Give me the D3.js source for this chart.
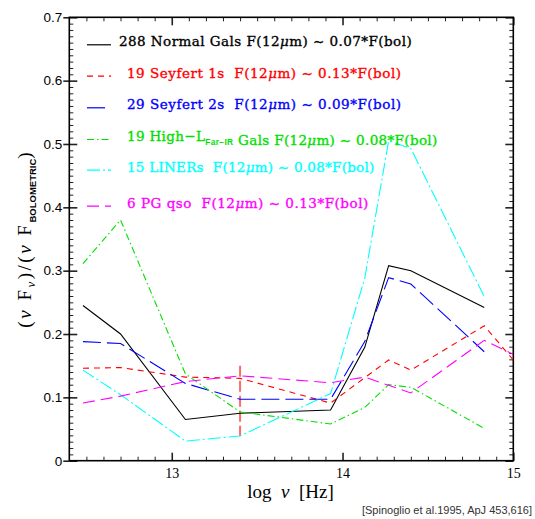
<!DOCTYPE html>
<html>
<head>
<meta charset="utf-8">
<script src="https://cdn.jsdelivr.net/npm/d3@7"></script>
<style>
  body { margin: 0; background: #fff; }
  text { white-space: pre; }
</style>
</head>
<body>
<svg id="chart" width="535" height="519"></svg>
<script>
// Mean SEDs normalised to the bolometric flux, sampled at the photometric bands
const logNu = [12.48, 12.70, 13.08, 13.40, 13.93, 14.13, 14.27, 14.40, 14.83, 15.00];

const normalGals = [0.245, 0.200, 0.065, 0.075, 0.080, 0.179, 0.308, 0.300, 0.242, null];
const seyfert1s  = [0.146, 0.147, 0.132, 0.130, 0.091, 0.131, 0.159, 0.143, 0.213, 0.159];
const seyfert2s  = [0.188, 0.185, 0.122, 0.097, 0.097, 0.188, 0.289, 0.279, 0.172, null];
const highLfir   = [0.311, 0.380, 0.137, 0.077, 0.058, 0.084, 0.120, 0.116, 0.051, null];
const liners     = [0.143, 0.104, 0.031, 0.039, 0.106, 0.288, 0.505, 0.493, 0.259, null];
const pgQso      = [0.091, 0.102, 0.125, 0.134, 0.123, 0.132, 0.119, 0.107, 0.190, 0.168];

const seriesNames = ["normal", "sy1", "sy2", "highL", "liners", "pgqso"];
const seriesValues = [normalGals, seyfert1s, seyfert2s, highLfir, liners, pgQso];
const legendLabels = [
  "288 Normal Gals F(12μm) ~ 0.07*F(bol)",
  "19 Seyfert 1s  F(12μm) ~ 0.13*F(bol)",
  "29 Seyfert 2s  F(12μm) ~ 0.09*F(bol)",
  "19 High−L_{Far−IR} Gals F(12μm) ~ 0.08*F(bol)",
  "15 LINERs  F(12μm) ~ 0.08*F(bol)",
  "6 PG qso  F(12μm) ~ 0.13*F(bol)"
];

// 12 micron marker (log nu = 13.4)
const marker12 = { logNu: 13.40, lo: 0.039, hi: 0.150 };

const xDomain = [12.4, 15];
const yDomain = [0, 0.7];
const xMajorTicks = [13, 14, 15];
const yMajorTicks = [0, 0.1, 0.2, 0.3, 0.4, 0.5, 0.6, 0.7];

// ---- styling ----
const colors = ["#000000", "#ff0000", "#0000ff", "#00e000", "#00ffff", "#ff00ff"];
const dashes = [null, "6,5", "18,6", "7,3,1.5,3", "13,3,2,3", "12,6"];

const svg = d3.select("#chart");
const plot = { left: 69.3, right: 513.3, top: 17.3, bottom: 460.7 };

const x = d3.scaleLinear().domain(xDomain).range([plot.left, plot.right]);
const y = d3.scaleLinear().domain(yDomain).range([plot.bottom, plot.top]);

const xMinor = d3.range(125, 150).map(v => v / 10).filter(v => Math.abs(v - Math.round(v)) > 1e-9);
const yMinor = d3.range(1, 70).filter(v => v % 10 !== 0).map(v => v / 100);

function noDomain(g) { g.select(".domain").remove(); }
function tickStyle(g, w) { g.selectAll(".tick line").attr("stroke", "#222").attr("stroke-width", w); }

// bottom
svg.append("g").attr("transform", `translate(0,${plot.bottom})`)
  .call(d3.axisBottom(x).tickValues(xMinor).tickSize(-4).tickFormat(""))
  .call(noDomain).call(g => tickStyle(g, 1));
svg.append("g").attr("transform", `translate(0,${plot.bottom})`)
  .call(d3.axisBottom(x).tickValues(xMajorTicks).tickSize(-8).tickPadding(7).tickFormat(d3.format("d")))
  .call(noDomain).call(g => tickStyle(g, 1.6))
  .call(g => g.selectAll("text").attr("font-family", "Liberation Serif, serif").attr("font-size", 14).attr("fill", "#000"));
// top
svg.append("g").attr("transform", `translate(0,${plot.top})`)
  .call(d3.axisTop(x).tickValues(xMinor).tickSize(-4).tickFormat(""))
  .call(noDomain).call(g => tickStyle(g, 1));
svg.append("g").attr("transform", `translate(0,${plot.top})`)
  .call(d3.axisTop(x).tickValues(xMajorTicks).tickSize(-8).tickFormat(""))
  .call(noDomain).call(g => tickStyle(g, 1.6));
// left
svg.append("g").attr("transform", `translate(${plot.left},0)`)
  .call(d3.axisLeft(y).tickValues(yMinor).tickSize(-4).tickFormat(""))
  .call(noDomain).call(g => tickStyle(g, 1));
svg.append("g").attr("transform", `translate(${plot.left},0)`)
  .call(d3.axisLeft(y).tickValues(yMajorTicks).tickSize(-8).tickFormat(""))
  .call(noDomain).call(g => tickStyle(g, 1.6));
svg.append("g").attr("transform", `translate(${plot.left},0)`)
  .call(d3.axisLeft(y).tickValues(yMajorTicks).tickSize(6).tickPadding(1)
        .tickFormat(d => d === 0 ? "0" : d3.format(".1f")(d)))
  .call(noDomain).call(g => tickStyle(g, 1.6))
  .call(g => g.selectAll("text").attr("font-family", "Liberation Sans, Arial, sans-serif").attr("font-size", 13.5).attr("fill", "#000"));
// right
svg.append("g").attr("transform", `translate(${plot.right},0)`)
  .call(d3.axisRight(y).tickValues(yMinor).tickSize(-4).tickFormat(""))
  .call(noDomain).call(g => tickStyle(g, 1));
svg.append("g").attr("transform", `translate(${plot.right},0)`)
  .call(d3.axisRight(y).tickValues(yMajorTicks).tickSize(-8).tickFormat(""))
  .call(noDomain).call(g => tickStyle(g, 1.6));

// frame
svg.append("rect")
  .attr("x", plot.left).attr("y", plot.top)
  .attr("width", plot.right - plot.left).attr("height", plot.bottom - plot.top)
  .attr("fill", "none").attr("stroke", "#000").attr("stroke-width", 1.6);

// clip for data lines
svg.append("clipPath").attr("id", "plotClip").append("rect")
  .attr("x", plot.left).attr("y", plot.top)
  .attr("width", plot.right - plot.left).attr("height", plot.bottom - plot.top);

// 12 micron marker
svg.append("line")
  .attr("x1", x(marker12.logNu)).attr("x2", x(marker12.logNu))
  .attr("y1", y(marker12.hi)).attr("y2", y(marker12.lo))
  .attr("stroke", "#ff6a6a").attr("stroke-width", 2).attr("stroke-dasharray", "11,4");

// SED lines
const line = d3.line()
  .defined(d => d[1] !== null)
  .x(d => x(d[0])).y(d => y(d[1]));

const dataG = svg.append("g").attr("clip-path", "url(#plotClip)");
seriesValues.forEach((vals, i) => {
  dataG.append("path")
    .datum(logNu.map((v, k) => [v, vals[k]]))
    .attr("class", "sed " + seriesNames[i])
    .attr("d", line)
    .attr("fill", "none")
    .attr("stroke", colors[i])
    .attr("stroke-width", 1.1)
    .attr("stroke-dasharray", dashes[i]);
});

// ---- legend ----
const legendRowY = [41.3, 72.7, 104.3, 136, 166.7, 202.7];
const legendTextX = [119, 127, 127, 127, 127, 127];
const legendTextEnd = [411.7, 401, 401, 437.3, 374.3, 368.3];

function richText(sel, str, baseSize) {
  // "_{...}" becomes a bold sans subscript, "μ" is set in italic
  const parts = str.split(/(_\{[^}]*\})/);
  parts.forEach(p => {
    if (p.startsWith("_{")) {
      sel.append("tspan").text(p.slice(2, -1))
        .attr("font-family", "Liberation Sans, Arial, sans-serif")
        .attr("font-weight", "bold").attr("font-size", baseSize * 0.62)
        .attr("stroke-width", 0)
        .attr("dy", 4);
      sel.append("tspan").attr("dy", -4).text("");
    } else {
      p.split(/(μ)/).forEach(q => {
        if (!q) return;
        const t = sel.append("tspan").text(q);
        if (q === "μ") t.attr("font-style", "italic");
      });
    }
  });
}

legendLabels.forEach((lab, i) => {
  svg.append("line")
    .attr("x1", 87).attr("x2", 111)
    .attr("y1", legendRowY[i] + 3.5).attr("y2", legendRowY[i] + 3.5)
    .attr("stroke", colors[i]).attr("stroke-width", 1.2)
    .attr("stroke-dasharray", dashes[i]);
  const t = svg.append("text")
    .attr("x", legendTextX[i]).attr("y", legendRowY[i] + 5)
    .attr("font-family", "DejaVu Serif, serif")
    .attr("font-size", 13.5)
    .attr("fill", colors[i])
    .attr("stroke", colors[i]).attr("stroke-width", 0.35)
    .attr("textLength", legendTextEnd[i] - legendTextX[i])
    .attr("lengthAdjust", "spacing");
  richText(t, lab, 13.5);
});

// ---- axis titles ----
const xt = svg.append("text")
  .attr("x", 290.5).attr("y", 498)
  .attr("text-anchor", "middle")
  .attr("font-family", "Liberation Serif, serif")
  .attr("font-size", 19).attr("fill", "#000");
xt.append("tspan").text("log  ");
xt.append("tspan").attr("font-style", "italic").text("ν");
xt.append("tspan").text("  [Hz]");

const yt = svg.append("text")
  .attr("transform", "translate(31,240) rotate(-90)")
  .attr("text-anchor", "middle")
  .attr("font-family", "Liberation Serif, serif")
  .attr("font-size", 19).attr("fill", "#000");
const ls = 2.5;
yt.append("tspan").attr("letter-spacing", ls).text("(");
yt.append("tspan").attr("letter-spacing", ls).attr("font-style", "italic").text("ν");
yt.append("tspan").attr("letter-spacing", ls).text(" F");
yt.append("tspan").attr("letter-spacing", ls).attr("font-style", "italic").attr("font-size", 13).attr("dy", 4).text("ν");
yt.append("tspan").attr("letter-spacing", ls).attr("dy", -4).text(")/(");
yt.append("tspan").attr("letter-spacing", ls).attr("font-style", "italic").text("ν");
yt.append("tspan").attr("letter-spacing", ls).text(" F");
yt.append("tspan").attr("font-family", "Liberation Sans, Arial, sans-serif").attr("font-weight", "bold")
  .attr("font-size", 9.5).attr("dy", 5).text("BOLOMETRIC");
yt.append("tspan").attr("dy", -5).text(")");

// citation
svg.append("text")
  .attr("x", 532).attr("y", 514)
  .attr("text-anchor", "end")
  .attr("font-family", "Liberation Sans, Arial, sans-serif")
  .attr("font-size", 11).attr("fill", "#333")
  .text("[Spinoglio et al.1995, ApJ 453,616]");
</script>
</body>
</html>
